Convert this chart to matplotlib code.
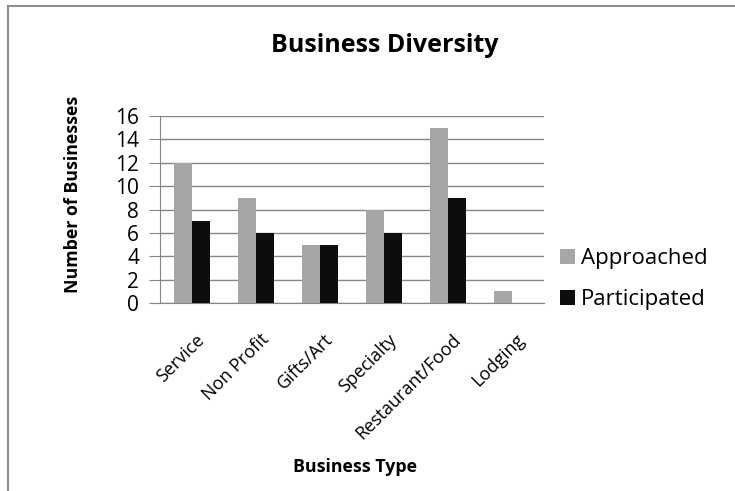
import matplotlib.pyplot as plt
from matplotlib.patches import Rectangle
from matplotlib.transforms import ScaledTranslation

# data
categories = ['Service', 'Non Profit', 'Gifts/Art', 'Specialty', 'Restaurant/Food', 'Lodging']
approached = [12, 9, 5, 8, 15, 1]
participated = [7, 6, 5, 6, 9, 0]
y_ticks = [0, 2, 4, 6, 8, 10, 12, 14, 16]

plt.rcParams['font.family'] = ['Open Sans', 'DejaVu Sans']

W, H = 735, 491
fig = plt.figure(figsize=(W / 100, H / 100), dpi=100)

# outer chart frame (only top and left edges visible)
fig.patches.append(Rectangle((8 / W, -0.05), 1.1, (H - 6) / H + 0.05,
                             transform=fig.transFigure, fill=False,
                             edgecolor='#8c8c8c', linewidth=1.5))

ax = fig.add_axes([160 / W, 1 - 303 / H, 384 / W, 187 / H])

x = range(len(categories))
bw = 0.28
ax.bar([i - bw / 2 for i in x], approached, width=bw, color='#a6a6a6', label='Approached', zorder=3)
ax.bar([i + bw / 2 for i in x], participated, width=bw, color='#0d0d0d', label='Participated', zorder=3)

ax.set_xlim(-0.5, len(categories) - 0.5)
ax.set_ylim(0, 16)
ax.set_yticks(y_ticks)
ax.tick_params(axis='y', labelsize=15, length=8, color='#868686', pad=7)
ax.set_xticks(list(x))
ax.set_xticklabels(categories, rotation=45, ha='right', va='center', rotation_mode='anchor', fontsize=13)
ax.tick_params(axis='x', length=0, pad=0)
# push the slanted labels down and a bit right, like the original
shift = ScaledTranslation(0.10, -0.34, fig.dpi_scale_trans)
for lab in ax.get_xticklabels():
    lab.set_transform(lab.get_transform() + shift)

ax.grid(axis='y', color='#868686', linewidth=1, zorder=0)
for s in ['top', 'right']:
    ax.spines[s].set_visible(False)
ax.spines['left'].set_color('#868686')
ax.spines['bottom'].set_color('#868686')
ax.spines['bottom'].set_bounds(-0.5 - 8 / 64, len(categories) - 0.5)

ax.legend(loc='center left', bbox_to_anchor=(540 / W, 1 - 279 / H), bbox_transform=fig.transFigure,
          frameon=False, fontsize=16, handlelength=0.68, handleheight=0.68, handletextpad=0.27,
          labelspacing=0.9)

fig.text(385 / W, 1 - 45 / H, 'Business Diversity', ha='center', va='center', fontsize=18, fontweight='bold')
fig.text(355 / W, 1 - 467 / H, 'Business Type', ha='center', va='center', fontsize=12.8, fontweight='bold')
fig.text(73 / W, 1 - 194 / H, 'Number of Businesses', ha='center', va='center', rotation=90,
         fontsize=12.8, fontweight='bold')

fig.savefig('out.png', dpi=100)
